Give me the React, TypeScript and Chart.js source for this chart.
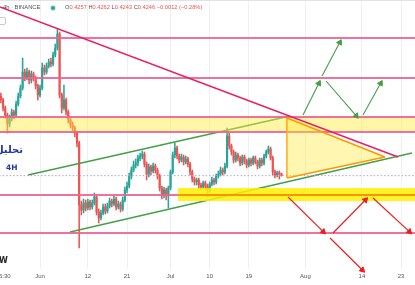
import React, { useEffect, useRef } from 'react';
import { Chart, registerables } from 'chart.js';
Chart.register(...registerables);

// ---- time axis (days since 1 Jun) ----
const xMin = -9.2;
const xMax = 86.2;
const tickDays = [-8.1, 0, 11, 20, 30, 39, 48, 61, 74, 83];
const tickLabels = ['5:30', 'Jun', '12', '21', 'Jul', '10', '19', 'Aug', '14', '23'];

// ---- price axis ----
const yMin = 0.3686;
const yMax = 0.53;

// ---- 12h candles ----
const firstCandleDay = -9;
const candleStepDays = 0.5;
const firstOpen = 0.4724;
const closes = [
  0.4700, 0.4652, 0.4610, 0.4556, 0.4592, 0.4628, 0.4610, 0.4676, 0.4724, 0.4772,
  0.4868, 0.4832, 0.4868, 0.4820, 0.4856, 0.4832, 0.4784, 0.4730, 0.4772, 0.4892,
  0.4868, 0.4904, 0.4928, 0.4916, 0.4970, 0.5012, 0.5096, 0.4730, 0.4652, 0.4700,
  0.4628, 0.4580, 0.4550, 0.4532, 0.4502, 0.4442, 0.4070, 0.4040, 0.4082, 0.4052,
  0.4088, 0.4058, 0.4082, 0.4118, 0.4028, 0.3992, 0.4022, 0.4058, 0.4034, 0.4064,
  0.4094, 0.4076, 0.4106, 0.4058, 0.4076, 0.4046, 0.4100, 0.4160, 0.4184, 0.4244,
  0.4280, 0.4310, 0.4322, 0.4352, 0.4364, 0.4376, 0.4316, 0.4256, 0.4298, 0.4274,
  0.4304, 0.4280, 0.4244, 0.4172, 0.4130, 0.4160, 0.4124, 0.4172, 0.4268, 0.4370,
  0.4412, 0.4364, 0.4340, 0.4358, 0.4328, 0.4346, 0.4316, 0.4268, 0.4226, 0.4208,
  0.4220, 0.4190, 0.4178, 0.4202, 0.4184, 0.4160, 0.4196, 0.4220, 0.4208, 0.4244,
  0.4256, 0.4280, 0.4268, 0.4304, 0.4484, 0.4424, 0.4388, 0.4340, 0.4370, 0.4352,
  0.4322, 0.4358, 0.4334, 0.4310, 0.4340, 0.4322, 0.4352, 0.4328, 0.4304, 0.4340,
  0.4322, 0.4364, 0.4388, 0.4406, 0.4352, 0.4268, 0.4250, 0.4262, 0.4257, 0.4246,
];
const highs = [
  0.4742, 0.4712, 0.4664, 0.4622, 0.4610, 0.4646, 0.4640, 0.4694, 0.4742, 0.4790,
  0.4952, 0.4886, 0.4892, 0.4880, 0.4874, 0.4868, 0.4844, 0.4796, 0.4790, 0.4922,
  0.4910, 0.4922, 0.4946, 0.4952, 0.4988, 0.5036, 0.5126, 0.5108, 0.4742, 0.4790,
  0.4712, 0.4640, 0.4598, 0.4568, 0.4544, 0.4514, 0.4454, 0.4094, 0.4106, 0.4100,
  0.4106, 0.4100, 0.4100, 0.4142, 0.4130, 0.4046, 0.4040, 0.4076, 0.4076, 0.4082,
  0.4112, 0.4106, 0.4124, 0.4118, 0.4094, 0.4088, 0.4118, 0.4178, 0.4208, 0.4262,
  0.4298, 0.4334, 0.4346, 0.4370, 0.4382, 0.4394, 0.4388, 0.4328, 0.4316, 0.4310,
  0.4322, 0.4316, 0.4292, 0.4256, 0.4184, 0.4178, 0.4172, 0.4184, 0.4280, 0.4388,
  0.4442, 0.4424, 0.4376, 0.4376, 0.4370, 0.4364, 0.4358, 0.4328, 0.4280, 0.4238,
  0.4232, 0.4232, 0.4202, 0.4214, 0.4214, 0.4196, 0.4208, 0.4238, 0.4232, 0.4256,
  0.4274, 0.4298, 0.4292, 0.4322, 0.4532, 0.4502, 0.4436, 0.4400, 0.4388, 0.4382,
  0.4364, 0.4370, 0.4370, 0.4346, 0.4352, 0.4352, 0.4364, 0.4364, 0.4340, 0.4352,
  0.4352, 0.4376, 0.4400, 0.4424, 0.4418, 0.4364, 0.4280, 0.4274, 0.4274, 0.4262,
];
const lows = [
  0.4682, 0.4634, 0.4592, 0.4502, 0.4538, 0.4574, 0.4586, 0.4598, 0.4664, 0.4712,
  0.4760, 0.4814, 0.4820, 0.4796, 0.4802, 0.4814, 0.4766, 0.4700, 0.4718, 0.4760,
  0.4850, 0.4856, 0.4892, 0.4898, 0.4904, 0.4958, 0.5000, 0.4712, 0.4622, 0.4640,
  0.4610, 0.4562, 0.4532, 0.4514, 0.4478, 0.4418, 0.3812, 0.4010, 0.4022, 0.4034,
  0.4040, 0.4040, 0.4046, 0.4070, 0.4010, 0.3962, 0.3980, 0.4010, 0.4016, 0.4022,
  0.4052, 0.4058, 0.4064, 0.4040, 0.4046, 0.4028, 0.4034, 0.4088, 0.4142, 0.4172,
  0.4226, 0.4268, 0.4292, 0.4304, 0.4334, 0.4346, 0.4298, 0.4220, 0.4238, 0.4250,
  0.4262, 0.4262, 0.4226, 0.4154, 0.4106, 0.4112, 0.4100, 0.4052, 0.4160, 0.4256,
  0.4352, 0.4346, 0.4322, 0.4328, 0.4310, 0.4316, 0.4298, 0.4250, 0.4208, 0.4190,
  0.4190, 0.4172, 0.4160, 0.4166, 0.4166, 0.4118, 0.4148, 0.4184, 0.4190, 0.4196,
  0.4232, 0.4244, 0.4250, 0.4256, 0.4292, 0.4406, 0.4370, 0.4322, 0.4328, 0.4334,
  0.4304, 0.4310, 0.4316, 0.4292, 0.4298, 0.4304, 0.4310, 0.4316, 0.4286, 0.4292,
  0.4304, 0.4310, 0.4352, 0.4376, 0.4340, 0.4250, 0.4232, 0.4238, 0.4226, 0.4243,
];

// ---- drawings ----
const pinkLevels = [0.5072, 0.4832, 0.4598, 0.4508, 0.4130, 0.3902];
const upperZone = [0.4598, 0.4508];
const lowerZone = [0.4172, 0.4094];
const lowerZoneStart = 31.7;
const orangeLevel = 0.4130;
const lastPrice = 0.4246;
const resistanceLine = [[-9.2, 0.5258], [82.3, 0.4358]];
const channelTop = [[-2.76, 0.425], [57.47, 0.4604]];
const channelBottom = [[6.9, 0.3908], [85.5, 0.4382]];
const triangleTop = [[56.78, 0.4592], [79.31, 0.4358]];
const triangleBottom = [[56.78, 0.4232], [79.31, 0.4358]];
const greenArrows = [
  [[60.46, 0.4610], [64.1, 0.4800]],
  [[64.83, 0.4844], [68.9, 0.5045]],
  [[65.75, 0.4814], [72.7, 0.4605]],
  [[74.25, 0.4610], [78.3, 0.4800]],
];
const redArrows = [
  [[57.01, 0.4118], [65.1, 0.3910]],
  [[67.36, 0.3902], [74.8, 0.4100]],
  [[76.55, 0.4112], [84.9, 0.3910]],
  [[66.67, 0.3872], [74.1, 0.3680]],
];

const UP = '#26a69a';
const DOWN = '#ef5350';

const pts = (arr: number[][]) => arr.map(([x, y]) => ({ x, y }));

const arrowRotation = (ctx: any) => {
  const ds = ctx.dataset;
  const ch = ctx.chart;
  const xs = ch.scales.x;
  const ys = ch.scales.y;
  const a = ds.data[0];
  const b = ds.data[1];
  const dx = xs.getPixelForValue(b.x) - xs.getPixelForValue(a.x);
  const dy = ys.getPixelForValue(b.y) - ys.getPixelForValue(a.y);
  return (Math.atan2(dx, -dy) * 180) / Math.PI;
};

const lineDs = (data: any[], color: string, width: number, order: number, extra: any = {}) => ({
  type: 'line',
  data,
  borderColor: color,
  borderWidth: width,
  pointRadius: 0,
  pointHoverRadius: 0,
  fill: false,
  tension: 0,
  order,
  ...extra,
});

export default function App() {
  const ref = useRef<HTMLCanvasElement | null>(null);

  useEffect(() => {
    if (!ref.current) return;
    Chart.defaults.font.family = '"Liberation Sans", Arial, sans-serif';
    const opens = closes.map((c, i) => (i === 0 ? firstOpen : closes[i - 1]));
    const times = closes.map((_, i) => firstCandleDay + candleStepDays * i);
    const colors = closes.map((c, i) => (c >= opens[i] ? UP : DOWN));

    const datasets: any[] = [];
    datasets.push({
      type: 'bar',
      data: times.map((t, i) => ({ x: t, y: [lows[i], highs[i]] })),
      backgroundColor: colors,
      barThickness: 0.9,
      grouped: false,
      order: 30,
    });
    datasets.push({
      type: 'bar',
      data: times.map((t, i) => ({ x: t, y: [opens[i], closes[i]] })),
      backgroundColor: colors,
      barThickness: 1.5,
      minBarLength: 1,
      grouped: false,
      order: 29,
    });
    // channel lines
    datasets.push(lineDs(pts(channelTop), '#43a047', 1.4, 20));
    datasets.push(lineDs(pts(channelBottom), '#43a047', 1.4, 20));
    // price line
    datasets.push(
      lineDs(pts([[xMin - 1, lastPrice], [xMax + 1, lastPrice]]), '#b39ddb', 1, 19, { borderDash: [1.5, 2] })
    );
    // zones
    datasets.push(
      lineDs(pts([[xMin - 1, upperZone[0]], [xMax + 1, upperZone[0]]]), 'rgba(0,0,0,0)', 0, 15, {
        fill: { value: upperZone[1] },
        backgroundColor: 'rgba(255, 235, 59, 0.45)',
      })
    );
    datasets.push(
      lineDs(pts([[lowerZoneStart, lowerZone[0]], [xMax + 1, lowerZone[0]]]), 'rgba(0,0,0,0)', 0, 12, {
        fill: { value: lowerZone[1] },
        backgroundColor: 'rgba(255, 240, 0, 0.85)',
      })
    );
    // pink levels
    pinkLevels.forEach((lv) => {
      datasets.push(lineDs(pts([[xMin - 1, lv], [xMax + 1, lv]]), 'rgba(240, 98, 146, 0.9)', 1.8, 14));
    });
    // orange level
    datasets.push(lineDs(pts([[lowerZoneStart, orangeLevel], [xMax + 1, orangeLevel]]), '#f57c00', 1.5, 10));
    // resistance line
    datasets.push(lineDs(pts(resistanceLine), '#e91e63', 1.5, 9));
    // triangle
    datasets.push(lineDs(pts(triangleTop), '#ff9800', 1.5, 8));
    datasets.push(
      lineDs(pts(triangleBottom), '#ff9800', 1.5, 8, {
        fill: '-1',
        backgroundColor: 'rgba(255, 235, 59, 0.4)',
      })
    );
    datasets.push(lineDs(pts([triangleTop[0], triangleBottom[0]]), '#ff9800', 1.5, 8));
    // arrows
    const arrow = (a: number[][], color: string) =>
      lineDs(pts(a), color, 1.1, 2, {
        pointRadius: [0, 3.2],
        pointStyle: 'triangle',
        pointBackgroundColor: color,
        pointBorderColor: color,
        pointBorderWidth: 1,
        pointRotation: arrowRotation,
        clip: false,
      });
    greenArrows.forEach((a) => datasets.push(arrow(a, '#43a047')));
    redArrows.forEach((a) => datasets.push(arrow(a, '#f01818')));

    const chart = new Chart(ref.current, {
      type: 'bar',
      data: { datasets },
      options: {
        animation: false,
        responsive: false,
        devicePixelRatio: 1,
        events: [],
        layout: { padding: 0, autoPadding: false } as any,
        plugins: { legend: { display: false }, tooltip: { enabled: false } },
        scales: {
          x: {
            type: 'linear',
            min: xMin,
            max: xMax,
            offset: false,
            grid: {
              offset: false,
              drawTicks: false,
              color: (c: any) => (c.index === 0 ? 'rgba(0,0,0,0)' : '#eef0f4'),
            },
            border: { display: false },
            ticks: {
              autoSkip: false,
              maxRotation: 0,
              padding: 4,
              color: '#555',
              font: { size: 6 },
              callback: (v: any) => {
                const k = tickDays.indexOf(Number(v));
                return k >= 0 ? tickLabels[k] : '';
              },
            },
            afterBuildTicks: (s: any) => {
              s.ticks = tickDays.map((v) => ({ value: v }));
            },
            afterFit: (s: any) => {
              s.height = 16;
              s.paddingLeft = 0;
              s.paddingRight = 0;
            },
          },
          y: { type: 'linear', display: false, min: yMin, max: yMax },
        },
      } as any,
    });
    return () => chart.destroy();
  }, []);

  const blue = '#2238a6';
  return (
    <div style={{ position: 'fixed', left: 0, top: 0, width: 415, height: 285, overflow: 'hidden', background: '#fff' }}>
      <canvas ref={ref} width={415} height={285} style={{ display: 'block', width: 415, height: 285 }} />
      <div style={{ position: 'absolute', left: 0, top: 0, width: 415, height: 1, background: '#e0e3eb' }} />
      <div style={{ position: 'absolute', left: 3, top: 4, fontFamily: '"Liberation Sans", Arial, sans-serif', fontSize: 5.8, color: '#50535e', whiteSpace: 'nowrap' }}>
        4h · BINANCE
      </div>
      <div style={{ position: 'absolute', left: 51, top: 5.5, width: 4, height: 4, borderRadius: 3, background: UP, boxShadow: '0 0 0 1px rgba(38,166,154,0.25)' }} />
      <div style={{ position: 'absolute', left: 65, top: 4, fontFamily: '"Liberation Sans", Arial, sans-serif', fontSize: 5.7, color: DOWN, whiteSpace: 'nowrap' }}>
        <span style={{ color: '#50535e' }}>O</span>0.4257 <span style={{ color: '#50535e' }}>H</span>0.4262{' '}
        <span style={{ color: '#50535e' }}>L</span>0.4243 <span style={{ color: '#50535e' }}>C</span>0.4246 −0.0012 (−0.28%)
      </div>
      <div style={{ position: 'absolute', left: -3, top: 17, width: 7, height: 6, border: '1px solid #c9cbd3', borderRadius: 2, background: '#fff' }} />
      <div dir="rtl" style={{ position: 'absolute', left: -30, width: 53, top: 144, textAlign: 'right', fontFamily: '"DejaVu Sans", sans-serif', fontWeight: 'bold', fontSize: 10, color: blue, whiteSpace: 'nowrap' }}>
        تحليل
      </div>
      <div style={{ position: 'absolute', left: 6, top: 163, fontFamily: '"DejaVu Sans", sans-serif', fontWeight: 'bold', fontSize: 7.5, color: blue }}>4H</div>
      <div style={{ position: 'absolute', left: -1, top: 256, fontFamily: '"DejaVu Sans", sans-serif', fontWeight: 'bold', fontSize: 8, color: '#222' }}>W</div>
    </div>
  );
}
